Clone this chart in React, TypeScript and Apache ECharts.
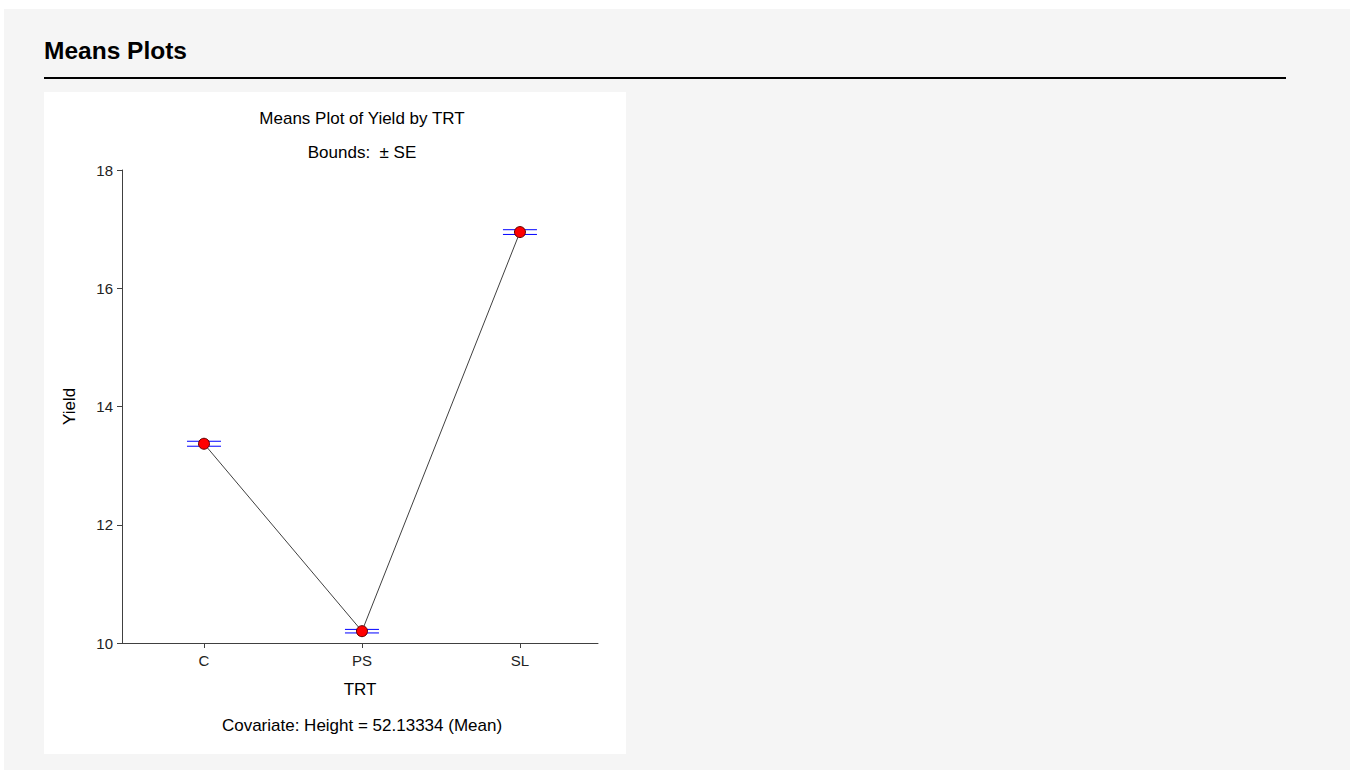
import React, { useEffect, useRef } from "react";
import * as echarts from "echarts";

const categories = ["C", "PS", "SL"];
const means = [13.37, 10.2, 16.95];
const standardErrors = [0.042, 0.03, 0.04];
const yTicks = { min: 10, max: 18, interval: 2 };

const FONT = "'Liberation Sans', Arial, sans-serif";

export default function App() {
  const ref = useRef<HTMLDivElement>(null);
  useEffect(() => {
    document.body.style.margin = "0";
    const chart = echarts.init(ref.current!, null, { renderer: "svg" });
    const errData = categories.map((c, i) => [i, means[i], standardErrors[i]]);
    const lineData = categories.map((c, i) => [i, means[i]]);
    const idx = categories.map((c, i) => i);
    chart.setOption({
      animation: false,
      textStyle: { fontFamily: FONT },
      graphic: [
        { type: "rect", z: -10, shape: { x: 4, y: 9, width: 1346, height: 761 }, style: { fill: "#f5f5f5" } },
        { type: "rect", z: -9, shape: { x: 44, y: 92, width: 582, height: 662 }, style: { fill: "#ffffff" } },
        { type: "text", x: 44, y: 38, style: { text: "Means Plots", font: `bold 24.5px ${FONT}`, fill: "#000" } },
        { type: "line", shape: { x1: 44, y1: 78, x2: 1286, y2: 78 }, style: { stroke: "#000", lineWidth: 2 } },
        { type: "text", x: 362, y: 110, style: { text: "Means Plot of Yield by TRT", font: `17px ${FONT}`, fill: "#000", align: "center" } },
        { type: "text", x: 362, y: 144, style: { text: "Bounds:  \u00b1 SE", font: `17px ${FONT}`, fill: "#000", align: "center" } },
        { type: "text", x: 362, y: 717, style: { text: "Covariate: Height = 52.13334 (Mean)", font: `17px ${FONT}`, fill: "#000", align: "center" } },
      ],
      grid: { left: 122, top: 170, width: 476, height: 473, containLabel: false },
      xAxis: {
        type: "value",
        min: -0.519,
        max: 2.494,
        name: "TRT",
        nameLocation: "middle",
        nameGap: 38,
        nameTextStyle: { fontSize: 17, color: "#000", fontFamily: FONT },
        axisLine: { onZero: false, lineStyle: { color: "#404040", width: 1 } },
        axisTick: { show: true, customValues: idx, length: 5, lineStyle: { color: "#404040" } },
        axisLabel: {
          customValues: idx,
          fontSize: 15,
          color: "#222",
          margin: 10,
          fontFamily: FONT,
          formatter: (v: number) => categories[Math.round(v)] ?? "",
        },
        splitLine: { show: false },
      },
      yAxis: {
        type: "value",
        min: yTicks.min,
        max: yTicks.max,
        interval: yTicks.interval,
        name: "Yield",
        nameLocation: "middle",
        nameGap: 44,
        nameRotate: 90,
        nameTextStyle: { fontSize: 17, color: "#000", fontFamily: FONT },
        axisLine: { show: true, onZero: false, lineStyle: { color: "#404040", width: 1 } },
        axisTick: { show: true, length: 5, lineStyle: { color: "#404040" } },
        axisLabel: { fontSize: 15, color: "#222", margin: 9, fontFamily: FONT },
        splitLine: { show: false },
      },
      series: [
        {
          type: "custom",
          z: 3,
          data: errData,
          renderItem: (params: any, api: any) => {
            const i = api.value(0);
            const m = api.value(1);
            const se = api.value(2);
            const top = api.coord([i, m + se]);
            const bot = api.coord([i, m - se]);
            const hw = 17;
            const style = { stroke: "#0000ff", lineWidth: 1 };
            return {
              type: "group",
              children: [
                { type: "line", shape: { x1: top[0], y1: top[1], x2: bot[0], y2: bot[1] }, style },
                { type: "line", shape: { x1: top[0] - hw, y1: top[1], x2: top[0] + hw, y2: top[1] }, style },
                { type: "line", shape: { x1: bot[0] - hw, y1: bot[1], x2: bot[0] + hw, y2: bot[1] }, style },
              ],
            };
          },
        },
        {
          type: "line",
          z: 4,
          data: lineData,
          symbol: "circle",
          symbolSize: 11,
          lineStyle: { color: "#404040", width: 1 },
          itemStyle: { color: "#ff0000", borderColor: "#600000", borderWidth: 1 },
        },
      ],
    });
    return () => chart.dispose();
  }, []);
  return <div ref={ref} style={{ position: "absolute", left: 0, top: 0, width: 1354, height: 776 }} />;
}
